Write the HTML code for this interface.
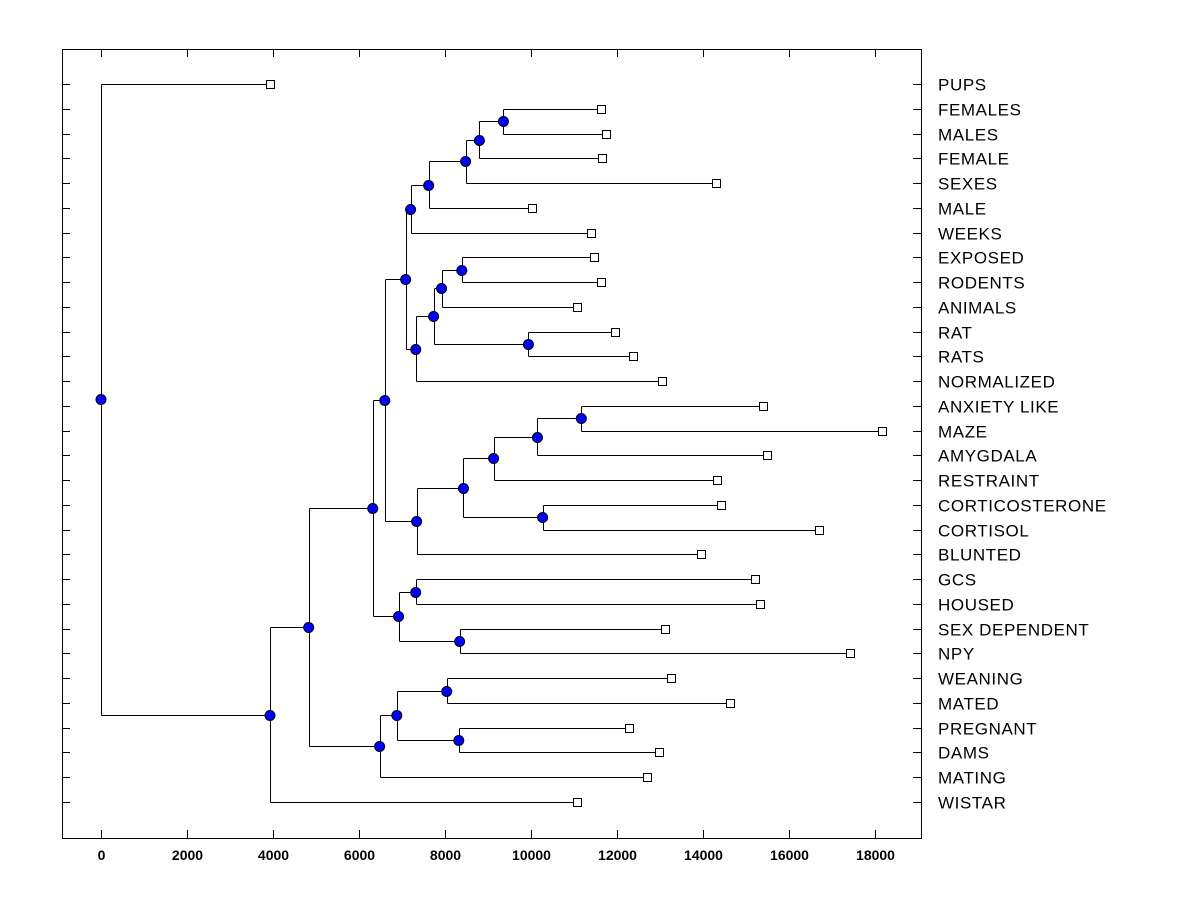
<!DOCTYPE html>
<html><head><meta charset="utf-8"><style>
body{margin:0;background:#fff;}
svg text{font-family:"Liberation Sans",Arial,sans-serif;}
</style></head><body>
<svg id="chart" width="1200" height="900" xmlns="http://www.w3.org/2000/svg"></svg>
<script>
const leafNames=["PUPS","FEMALES","MALES","FEMALE","SEXES","MALE","WEEKS","EXPOSED","RODENTS","ANIMALS","RAT","RATS","NORMALIZED","ANXIETY LIKE","MAZE","AMYGDALA","RESTRAINT","CORTICOSTERONE","CORTISOL","BLUNTED","GCS","HOUSED","SEX DEPENDENT","NPY","WEANING","MATED","PREGNANT","DAMS","MATING","WISTAR"];
const leafValues=[3926,11638,11754,11661,14309,10012,11405,11475,11638,11080,11963,12381,13055,15401,18165,15494,14332,14425,16702,13961,15215,15331,13124,17422,13264,14634,12288,12985,12706,11080];
const mergeLeft=[1,30,31,32,33,7,35,10,36,38,34,13,41,42,17,43,45,40,20,22,48,47,24,26,52,54,51,56,0];
const mergeRight=[2,3,4,5,6,8,9,11,37,12,39,14,15,16,18,44,19,46,21,23,49,50,25,27,53,28,55,29,57];
const mergeHeights=[9360,8800,8480,7620,7200,8390,7920,9940,7735,7320,7085,11170,10150,9130,10270,8430,7340,6600,7320,8340,6920,6320,8040,8320,6880,6480,4830,3930,0];
const xTicks=[0,2000,4000,6000,8000,10000,12000,14000,16000,18000];

const svg=document.getElementById('chart');
const NS='http://www.w3.org/2000/svg';
const L=62,R=921,T=49,B=838;
const xs=v=>101+v*0.043;
const ys=i=>84+i*(718/29);
function mk(tag,attrs,parent){const e=document.createElementNS(NS,tag);for(const k in attrs)e.setAttribute(k,attrs[k]);(parent||svg).appendChild(e);return e;}

const frame=mk('rect',{x:L+0.5,y:T+0.5,width:R-L,height:B-T,fill:'none',stroke:'#000','stroke-width':1});



const xAxis=mk('g',{});


xTicks.forEach(t=>{
  const x=Math.round(xs(t))+0.5;
  mk('line',{x1:x,x2:x,y1:B,y2:B-8,stroke:'#000'},xAxis);
  mk('line',{x1:x,x2:x,y1:T,y2:T+8,stroke:'#000'},xAxis);
  const tx=mk('text',{x:x,y:B+22,'text-anchor':'middle','font-size':14,'font-weight':'bold'},xAxis);
  tx.textContent=t;
  
  
});

const yAxis=mk('g',{});


leafNames.forEach((n,i)=>{
  const y=Math.round(ys(i))+0.5;
  mk('line',{x1:L,x2:L+8,y1:y,y2:y,stroke:'#000'},yAxis);
  mk('line',{x1:R-8,x2:R,y1:y,y2:y,stroke:'#000'},yAxis);
  const tx=mk('text',{x:938,y:y+6,'font-size':17,'letter-spacing':0.6},yAxis);
  tx.textContent=n;
  
  
});

const nodeX=[],nodeY=[];
leafValues.forEach((v,i)=>{nodeX[i]=xs(v);nodeY[i]=ys(i);});
const links=mk('g',{});


mergeHeights.forEach((h,k)=>{
  const id=30+k,a=mergeLeft[k],b=mergeRight[k];
  const x=xs(h);
  nodeX[id]=x;nodeY[id]=(nodeY[a]+nodeY[b])/2;
  const px=Math.round(x)+0.5;
  [a,b].forEach(c=>{
    const cy=Math.round(nodeY[c])+0.5;
    mk('line',{x1:px,x2:nodeX[c],y1:cy,y2:cy,stroke:'#000'},links);
  });
  mk('line',{x1:px,x2:px,y1:Math.round(nodeY[a])+0.5,y2:Math.round(nodeY[b])+0.5,stroke:'#000'},links);
});
const leaves=mk('g',{});


leafValues.forEach((v,i)=>{
  const r=mk('rect',{x:Math.round(nodeX[i])-3.5,y:Math.round(nodeY[i])-3.5,width:8,height:8,fill:'#fff',stroke:'#000'},leaves);
  
  
});
const nodes=mk('g',{});


mergeHeights.forEach((h,k)=>{
  const id=30+k;
  const c=mk('circle',{cx:nodeX[id],cy:Math.round(nodeY[id])+0.5,r:5,fill:'#0000ff',stroke:'#000'},nodes);
  
  
});
</script>
</body></html>
